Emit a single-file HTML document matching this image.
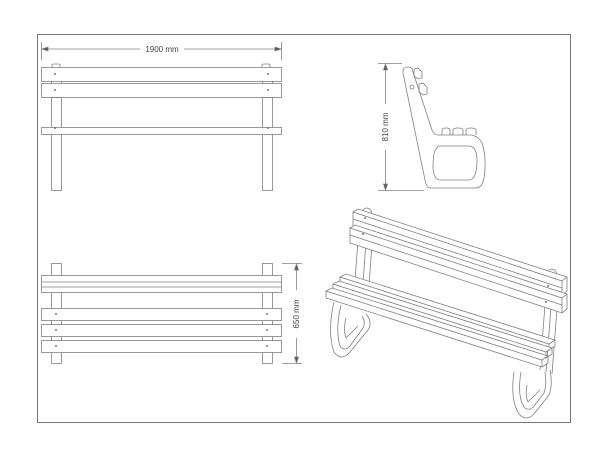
<!DOCTYPE html>
<html><head><meta charset="utf-8"><style>
html,body{margin:0;padding:0;background:#fff;}
svg{display:block}
text{font-family:"Liberation Sans",sans-serif;fill:#444;font-size:8px}
</style></head><body>
<svg width="600" height="450" viewBox="0 0 600 450" xmlns="http://www.w3.org/2000/svg">
<rect x="0" y="0" width="600" height="450" fill="#fff"/>
<rect x="37.5" y="34.5" width="533" height="388" fill="none" stroke="#777" stroke-width="1"/>
<g fill="none" stroke="#808080" stroke-width="0.8">
<!-- FRONT VIEW -->
<line x1="42" y1="49" x2="140" y2="49"/><line x1="184" y1="49" x2="281" y2="49"/>
<line x1="41.5" y1="42" x2="41.5" y2="60"/><line x1="281.5" y1="42" x2="281.5" y2="60"/>
<path d="M42,49 l6,-2 v4z M281,49 l-6,-2 v4z" fill="#555"/>
<path d="M52,67 v-2 q0,-1 2,-1 h4 q2,0 2,1 v2 M262,67 v-2 q0,-1 2,-1 h4 q2,0 2,1 v2"/>
<rect x="41.5" y="67.5" width="240" height="14"/>
<rect x="41.5" y="83.5" width="240" height="14"/>
<rect x="51.5" y="97.5" width="10" height="93"/>
<rect x="262.5" y="97.5" width="10" height="93"/>
<line x1="51.5" y1="81" x2="51.5" y2="84"/><line x1="61.5" y1="81" x2="61.5" y2="84"/>
<line x1="262.5" y1="81" x2="262.5" y2="84"/><line x1="272.5" y1="81" x2="272.5" y2="84"/>
<rect x="41.5" y="127.5" width="240" height="7" fill="#fff"/>
<!-- TOP VIEW -->
<rect x="51.5" y="263.5" width="10" height="100"/>
<rect x="262.5" y="263.5" width="10" height="100"/>
<rect x="41.5" y="275.5" width="240" height="17" fill="#fff"/>
<line x1="41.5" y1="282" x2="281.5" y2="282"/><line x1="41.5" y1="287" x2="281.5" y2="287"/>
<rect x="41.5" y="308.5" width="240" height="12" fill="#fff"/>
<rect x="41.5" y="324.5" width="240" height="12" fill="#fff"/>
<rect x="41.5" y="340.5" width="240" height="12" fill="#fff"/>
<line x1="282" y1="263.5" x2="302" y2="263.5"/><line x1="282" y1="363.5" x2="302" y2="363.5"/>
<line x1="296.5" y1="264" x2="296.5" y2="290"/><line x1="296.5" y1="338" x2="296.5" y2="363"/>
<path d="M296.5,264 l-2,6 h4z M296.5,363 l-2,-6 h4z" fill="#555"/>
<!-- SIDE VIEW -->
<line x1="378" y1="63.5" x2="402" y2="63.5"/><line x1="378" y1="190.5" x2="424" y2="190.5"/>
<line x1="385.5" y1="64" x2="385.5" y2="104"/><line x1="385.5" y1="150" x2="385.5" y2="190"/>
<path d="M385.5,64 l-2,6 h4z M385.5,190 l-2,-6 h4z" fill="#555"/>
<path d="M403,70 Q404,67 408,67 Q411,67 412,69 L432,130 Q434,135 438,135 L472,135 Q479,137 482,143 Q487,158 484,178 Q482,188 476,188 L430,188 Q426,187 425,180 L403,73 Z" fill="#fff"/>
<path d="M437,148 Q437,146 440,146 L470,146 Q477,148 477,160 Q477,178 470,180 L440,180 Q434,180 433,168 Q433,150 437,148Z"/>
<path d="M414,69 l4,-1 l4,4 v6 l-4,1 l-4,-3z M419,84 l4,-1 l4,4 v7 l-4,1 l-4,-3z"/>
<path d="M442,135 v-5 q0,-2 4,-2 q4,0 4,2 v5 M453,135 v-5 q0,-2 5,-2 q5,0 5,2 v5 M466,135 v-5 q0,-2 5,-2 q5,0 5,2 v5"/>
<circle cx="412" cy="87" r="2"/>
<!-- ISO VIEW -->
<path d="M361,215 q1,-6 5,-7 q5,0 6,6 M546,276 q1,-6 5,-7 q5,0 6,6"/>
<path d="M358,240 L355,281 M366,242 L363,283 M372,244 L369,285"/>
<path d="M545,305 L540,370 M551,307 L546,372 M557,309 L552,374"/>
<path d="M353,212 L358,209 L567,277 L562,281 Z M353,212 L353,226 L562,295 L562,281 M562,295 L567,291 L567,277" fill="#fff"/>
<path d="M350,228 L355,225 L567,294 L562,298 Z M350,228 L350,243 L562,313 L562,298 M562,313 L567,309 L567,294" fill="#fff"/>
<line x1="353" y1="219" x2="562" y2="288"/>
<line x1="350" y1="235" x2="562" y2="305"/>
<!-- left leg -->
<path d="M334,302 Q327,332 334,352 Q341,362 350,352 L368,330 Q373,322 366,314 M341,305 Q335,330 340,346 Q345,352 350,346 L363,328 Q366,322 362,316"/>
<path d="M346,318 Q343,330 346,338 L358,326"/>
<!-- seat slats -->
<path d="M340,277 L346,274 L555,340 L549,344 Z M340,277 L340,283 L549,350 L549,344 M549,350 L555,346 L555,340" fill="#fff"/>
<path d="M333,284 L339,281 L552,348 L546,352 Z M333,284 L333,290 L546,358 L546,352 M546,358 L552,354 L552,348" fill="#fff"/>
<path d="M326,291 L332,288 L548,356 L542,360 Z M326,291 L326,298 L542,367 L542,360 M542,367 L548,363 L548,356" fill="#fff"/>
<!-- right leg -->
<path d="M514,372 Q510,400 519,414 Q526,422 534,414 L549,395 Q553,385 550,370 M521,372 Q517,396 524,407 Q529,412 534,406 L544,393 Q547,385 545,372"/>
<path d="M527,385 Q525,396 528,402 L540,390"/>
</g>
<g fill="#777">
<circle cx="55" cy="74" r="1"/><circle cx="268" cy="74" r="1"/><circle cx="55" cy="90" r="1"/><circle cx="268" cy="90" r="1"/>
<circle cx="55" cy="128" r="1"/><circle cx="268" cy="128" r="1"/>
<circle cx="56" cy="314" r="1"/><circle cx="267" cy="314" r="1"/><circle cx="56" cy="330" r="1"/><circle cx="267" cy="330" r="1"/><circle cx="56" cy="346" r="1"/><circle cx="267" cy="346" r="1"/>
<circle cx="365" cy="218" r="1"/><circle cx="363" cy="234" r="1"/><circle cx="548" cy="286" r="1"/><circle cx="546" cy="302" r="1"/>
</g>
<text x="162" y="52" text-anchor="middle">1900 mm</text>
<text transform="translate(299,314) rotate(-90)" text-anchor="middle">650 mm</text>
<text transform="translate(388,127) rotate(-90)" text-anchor="middle">810 mm</text>
</svg>
</body></html>
